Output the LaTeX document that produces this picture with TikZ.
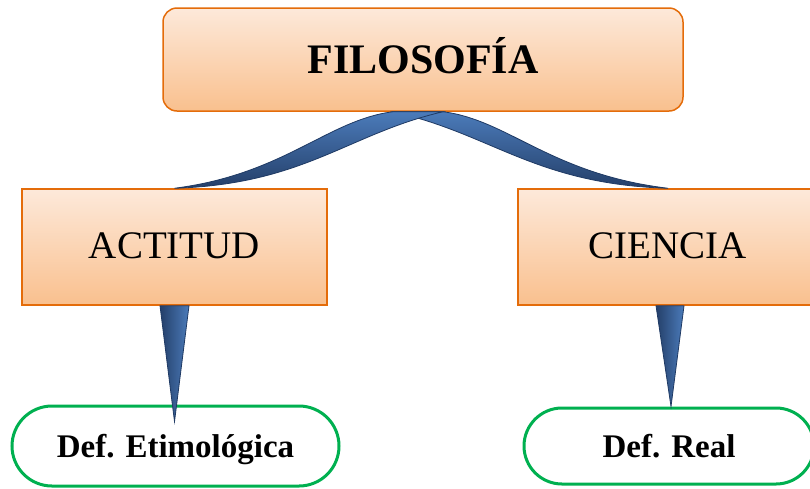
\documentclass[tikz,border=0pt]{standalone}
\usepackage{fontspec}
\setmainfont{Liberation Serif}
\usetikzlibrary{calc}
\definecolor{orbrd}{HTML}{E46C0A}
\definecolor{ortop}{HTML}{FDE9DA}
\definecolor{orbot}{HTML}{F9C08E}
\definecolor{grn}{HTML}{00B050}
\definecolor{blueL}{HTML}{4B7BBA}
\definecolor{blueD}{HTML}{243F69}
\definecolor{blueE}{HTML}{1F3A64}
\tikzset{
  obox/.style={draw=orbrd, line width=1.5pt, top color=ortop, bottom color=orbot, inner sep=0pt},
  gbox/.style={draw=grn, line width=3pt, fill=white, inner sep=0pt, text height=22pt, text depth=0pt},
  ribbonv/.style={draw=blueE, line width=0.8pt, left color=blueD, right color=blueL},
  ribbonc/.style={draw=blueE, line width=0.8pt, top color=blueL, bottom color=blueD},
}
\begin{document}
\begin{tikzpicture}[x=1pt,y=-1pt]
\useasboundingbox (0,0) rectangle (810,488);
% boxes
\node[obox, rounded corners=14pt, minimum width=520pt, minimum height=103pt, text height=27pt, text depth=0pt] (top) at (423,59.5)
  {\fontsize{42}{50}\selectfont\bfseries FILOSOFÍA};
\node[obox, minimum width=305pt, minimum height=116pt, text height=22pt, text depth=0pt] (act) at (174.5,247)
  {\fontsize{39}{46}\selectfont ACTITUD};
\node[obox, minimum width=300pt, minimum height=116pt, text height=22pt, text depth=0pt] (cie) at (668,247)
  {\fontsize{39}{46}\selectfont CIENCIA};
\node[gbox, rounded corners=40pt, minimum width=327pt, minimum height=80pt] (etim) at (175.5,446)
  {\fontsize{33}{40}\selectfont\bfseries Def. Etimológica};
\node[gbox, rounded corners=38pt, minimum width=290pt, minimum height=76pt] (real) at (669,446)
  {\fontsize{33}{40}\selectfont\bfseries Def. Real};
% curved connectors
\draw[ribbonc] ($(top.south)+(20,0)$) .. controls ($(top.south)+(85,8)$) and ($(cie.north)+(-117,-14)$) .. (cie.north)
  .. controls ($(cie.north)+(-133,-4)$) and ($(top.south)+(69,22)$) .. ($(top.south)+(-30,0)$) -- cycle;
\draw[ribbonc] ($(top.south)+(-30,0)$) .. controls ($(top.south)+(-95,8)$) and ($(act.north)+(110,-14)$) .. (act.north)
  .. controls ($(act.north)+(130,-4)$) and ($(top.south)+(-75,22)$) .. ($(top.south)+(20,0)$) -- cycle;
% vertical connectors
\coordinate (etip) at ($(etim.north)+(-1,17)$);
\coordinate (rtip) at ($(real.north)+(2,0)$);
\draw[ribbonv] ($(act.south)+(-14.5,0)$) -- ($(act.south)+(14.5,0)$) -- (etip) -- cycle;
\draw[ribbonv] ($(cie.south)+(-12,0)$) -- ($(cie.south)+(16,0)$) -- (rtip) -- cycle;
\end{tikzpicture}
\end{document}
